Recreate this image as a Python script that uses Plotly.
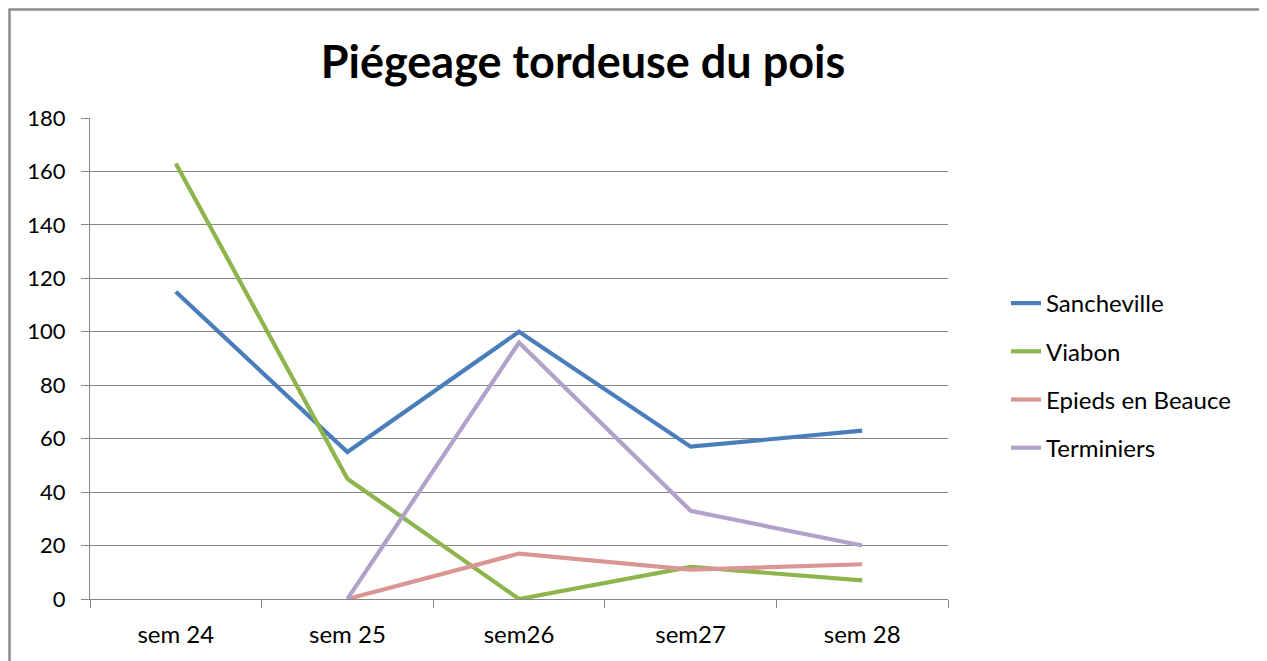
import plotly.graph_objects as go

categories = ["sem 24", "sem 25", "sem26", "sem27", "sem 28"]
sancheville = [115, 55, 100, 57, 63]
viabon = [163, 45, 0, 12, 7]
epieds = [None, 0, 17, 11, 13]
terminiers = [None, 0, 96, 33, 20]
y_ticks = [0, 20, 40, 60, 80, 100, 120, 140, 160, 180]

series = [
    ("Sancheville", sancheville, "#4A7EBB"),
    ("Viabon", viabon, "#8DB54B"),
    ("Epieds en Beauce", epieds, "#D99694"),
    ("Terminiers", terminiers, "#B0A2C8"),
]

FONT = "Lato, Calibri, Carlito, sans-serif"
x_idx = list(range(len(categories)))

fig = go.Figure()
for i, (name, vals, color) in enumerate(series):
    fig.add_trace(go.Scatter(
        x=x_idx, y=vals, mode="lines", name=name,
        line=dict(color=color, width=4.2), legendgroup=f"g{i}",
        connectgaps=False,
    ))

OFF = 8  # page body margin
W, H = 1267 - OFF, 661 - OFF
L = 90 - OFF
T = 118 - OFF
R = W - (948 - OFF)
B = H - (599 - OFF)
pw, ph = W - L - R, H - T - B

def px(xpix):  # page pixel -> paper x
    return (xpix - OFF - L) / pw

def py(ypix):  # page pixel -> paper y
    return (H - B - (ypix - OFF)) / ph

fig.update_layout(
    width=W, height=H,
    margin=dict(l=L, r=R, t=T, b=B, autoexpand=False),
    paper_bgcolor="white", plot_bgcolor="white",
    font=dict(family=FONT, size=22, color="#000000"),
    title=dict(text="<b>Piégeage tordeuse du pois</b>", font=dict(family=FONT, size=45, color="#000000"),
               x=px(583), xref="paper", xanchor="center", y=1 - (62 - OFF) / H, yref="container",
               yanchor="middle"),
    showlegend=True,
    legend=dict(x=px(1006), xanchor="left", y=py(281), yanchor="top", bgcolor="rgba(0,0,0,0)",
                font=dict(family=FONT, size=24, color="#000000"), tracegroupgap=14, itemwidth=30),
    xaxis=dict(range=[-0.5, 4.5], tickmode="array", tickvals=x_idx, ticktext=categories,
               ticks="", showgrid=False, zeroline=False, showline=True, linecolor="#868686", linewidth=1,
               ticklabelstandoff=14, tickfont=dict(family=FONT, size=24, color="#000000"),
               minor=dict(tickmode="array", tickvals=[-0.5, 0.5, 1.5, 2.5, 3.5, 4.5], ticks="outside",
                          ticklen=8, tickcolor="#868686", tickwidth=1, showgrid=False),
               fixedrange=True),
    yaxis=dict(range=[0, 180], tickmode="array", tickvals=y_ticks, ticks="outside", ticklen=8,
               tickcolor="#868686", showgrid=True, gridcolor="#868686", gridwidth=1, zeroline=False,
               showline=True, linecolor="#868686", linewidth=1, ticklabelstandoff=11,
               tickfont=dict(family=FONT, size=22, color="#000000"), fixedrange=True),
    shapes=[dict(type="rect", xref="paper", yref="paper", x0=px(9.5), x1=px(1263), y0=py(690), y1=py(9.5),
                 line=dict(color="#8C8C8C", width=2.5), fillcolor="rgba(0,0,0,0)", layer="below")],
)

fig.write_html("out.html")
